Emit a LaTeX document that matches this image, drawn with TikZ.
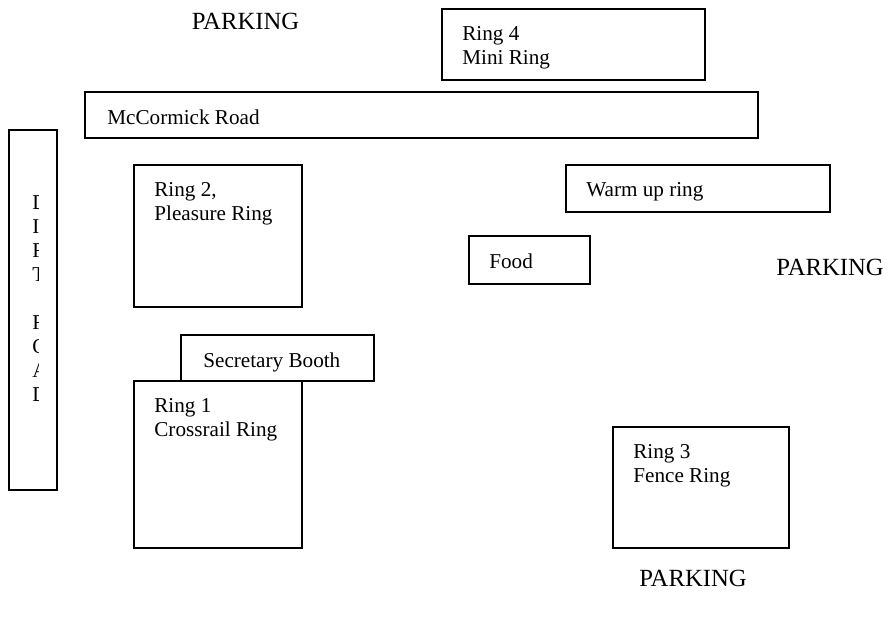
\documentclass[tikz,border=0pt]{standalone}
\usepackage{fontspec}
\setmainfont{Liberation Serif}
\usetikzlibrary{positioning, calc}
\tikzset{
  area/.style = {draw, line width=1.1pt, inner sep=0pt, outer sep=0pt},
  sized/.style 2 args = {minimum width=#1*0.567pt, minimum height=#2*0.567pt},
  tag/.style = {anchor=north west, inner sep=0pt, align=left, font=\fontsize{12}{13.6}\selectfont,
                xshift=20*0.567pt, yshift=-17*0.567pt}
}

\begin{document}
\begin{tikzpicture}[
    x=0.567pt, y=-0.567pt,
    park/.style={inner sep=0pt, font=\fontsize{14}{16}\selectfont},
    letters/.style={anchor=north west, inner sep=0pt, align=left, font=\fontsize{12}{13.6}\selectfont}
  ]
    \useasboundingbox (0,0) rectangle (889,618);

    \node[park] (park1) at (245.5,21) {PARKING};
    \node[park] (park2) at (830,267) {PARKING};
    \node[park] (park3) at (693,578) {PARKING};

    \node[area, sized={263}{71}, label={[tag]north west:{Ring 4\\Mini Ring}}] (ring4) at (573.5,44.5) {};
    \node[area, sized={673}{46}, label={[tag, xshift=2*0.567pt]north west:{McCormick Road}}] (road) at (421.5,115) {};
    \node[area, sized={48}{360}] (dirt) at (33,310) {};

    \node[area, sized={168}{142}, label={[tag]north west:{Ring 2,\\Pleasure Ring}}] (ring2) at (218,236) {};
    \node[area, sized={264}{47}, label={[tag]north west:{Warm up ring}}] (warmup) at (698,188.5) {};
    \node[area, sized={121}{48}, label={[tag]north west:{Food}}] (food) at (529.5,260) {};

    \node[area, sized={168}{167}, label={[tag]north west:{Ring 1\\Crossrail Ring}}] (ring1) at (218,464.5) {};
    \node[area, sized={193}{46}, label={[tag, xshift=2*0.567pt]north west:{Secretary Booth}}] (booth) at (277.5,358) {};
    \node[area, sized={176}{121}, label={[tag]north west:{Ring 3\\Fence Ring}}] (ring3) at (701,487.5) {};

    % letters cut off at the right, as printed
    \begin{scope}
      \clip (dirt.north west) rectangle (38,490);
      \node[letters] (dirttext) at (32,195) {D\\I\\R\\T\\[13.6pt]R\\O\\A\\D};
    \end{scope}

  \end{tikzpicture}
\end{document}
